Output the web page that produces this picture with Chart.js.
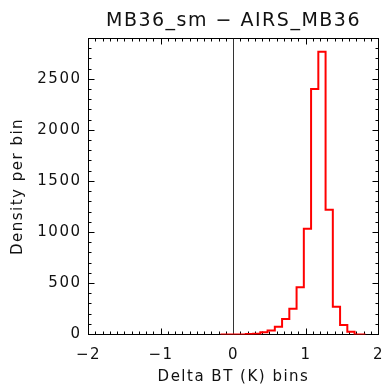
<!DOCTYPE html>
<html>
<head>
<meta charset="utf-8">
<script src="https://cdn.jsdelivr.net/npm/chart.js@4.4.1/dist/chart.umd.min.js"></script>
<style>
  html, body { margin: 0; padding: 0; background: #fff; }
  canvas { display: block; }
</style>
</head>
<body>
<canvas id="histChart" width="384" height="386"></canvas>
<script>
// histogram of MB36_sm - AIRS_MB36, bins of 0.1 K
const binCenters = [-0.18, -0.08, 0.02, 0.12, 0.22, 0.32, 0.42, 0.52, 0.62, 0.72, 0.82,
                    0.92, 1.02, 1.12, 1.22, 1.32, 1.42, 1.52, 1.62, 1.72, 1.82];
const binCounts  = [0, 0, 0, 0, 5, 8, 22, 38, 77, 152, 253,
                    463, 1035, 2405, 2770, 1222, 273, 93, 27, 0, 0];

const xTicks = [-2, -1, 0, 1, 2];
const yTicks = [0, 500, 1000, 1500, 2000, 2500];
const xRange = [-2, 2];
const yRange = [0, 2900];

const FONT = 'DejaVu Sans';
Chart.defaults.font.family = FONT;
Chart.defaults.color = '#111';

// wider glyph spacing, closer to the old vector font look
const spacing = {
  id: 'spacing',
  beforeLayout(chart) { chart.ctx.letterSpacing = '1.5px'; },
  beforeDraw(chart) { chart.ctx.letterSpacing = '1.5px'; }
};

// box around the plot with inward major/minor ticks on all four sides
const frameTicks = {
  id: 'frameTicks',
  beforeDatasetsDraw(chart) {
    const { ctx, chartArea: a, scales: { x, y } } = chart;
    ctx.save();
    ctx.strokeStyle = '#000';
    ctx.lineWidth = 1;
    ctx.strokeRect(a.left, a.top, a.right - a.left, a.bottom - a.top);
    ctx.beginPath();
    for (let i = xRange[0] * 10; i <= xRange[1] * 10; i++) {
      const px = Math.round(x.getPixelForValue(i / 10) - 0.5) + 0.5;
      const len = i % 10 === 0 ? 6 : 3;
      ctx.moveTo(px, a.bottom); ctx.lineTo(px, a.bottom - len);
      ctx.moveTo(px, a.top); ctx.lineTo(px, a.top + len);
    }
    for (let v = yRange[0]; v <= yRange[1]; v += 100) {
      const py = Math.round(y.getPixelForValue(v) - 0.5) + 0.5;
      const len = v % 500 === 0 ? 6 : 3;
      ctx.moveTo(a.left, py); ctx.lineTo(a.left + len, py);
      ctx.moveTo(a.right, py); ctx.lineTo(a.right - len, py);
    }
    ctx.stroke();
    ctx.restore();
  }
};

new Chart(document.getElementById('histChart'), {
  type: 'line',
  data: {
    datasets: [
      {
        data: binCenters.map((c, i) => ({ x: c, y: binCounts[i] })),
        stepped: 'middle',
        borderColor: '#ff0000',
        borderWidth: 2,
        pointRadius: 0
      },
      {
        // zero reference line
        data: [{ x: 0, y: yRange[0] }, { x: 0, y: yRange[1] }],
        borderColor: '#333',
        borderWidth: 1,
        pointRadius: 0
      }
    ]
  },
  options: {
    responsive: false,
    animation: false,
    layout: { padding: { left: 0, right: 5.5, top: 0, bottom: 0 } },
    plugins: {
      legend: { display: false },
      tooltip: { enabled: false },
      title: {
        display: true,
        fullSize: false,
        text: 'MB36_sm \u2212 AIRS_MB36',
        color: '#111',
        font: { size: 19, weight: 'normal' },
        padding: { top: 10, bottom: 5.7 }
      }
    },
    scales: {
      x: {
        type: 'linear',
        min: xRange[0],
        max: xRange[1],
        grid: { display: false, drawTicks: false },
        border: { display: false },
        afterBuildTicks: s => { s.ticks = xTicks.map(v => ({ value: v })); },
        afterFit: s => { s.height = 51.5; s.paddingLeft = 0; s.paddingRight = 0; },
        ticks: {
          padding: 12,
          maxRotation: 0,
          font: { size: 15 },
          callback: v => String(v).replace('-', '\u2212')
        },
        title: {
          display: true,
          text: 'Delta BT (K) bins',
          font: { size: 15 },
          padding: { top: 0, bottom: 0 }
        }
      },
      y: {
        type: 'linear',
        min: yRange[0],
        max: yRange[1],
        grid: { display: false, drawTicks: false },
        border: { display: false },
        afterBuildTicks: s => { s.ticks = yTicks.map(v => ({ value: v })); },
        afterFit: s => { s.width = 88.5; s.paddingTop = 0; s.paddingBottom = 0; },
        ticks: {
          padding: 7,
          font: { size: 15 },
          callback: v => String(v)
        },
        title: {
          display: true,
          text: 'Density per bin',
          font: { size: 15 },
          padding: { top: 9, bottom: 0 }
        }
      }
    }
  },
  plugins: [spacing, frameTicks]
});
</script>
</body>
</html>
